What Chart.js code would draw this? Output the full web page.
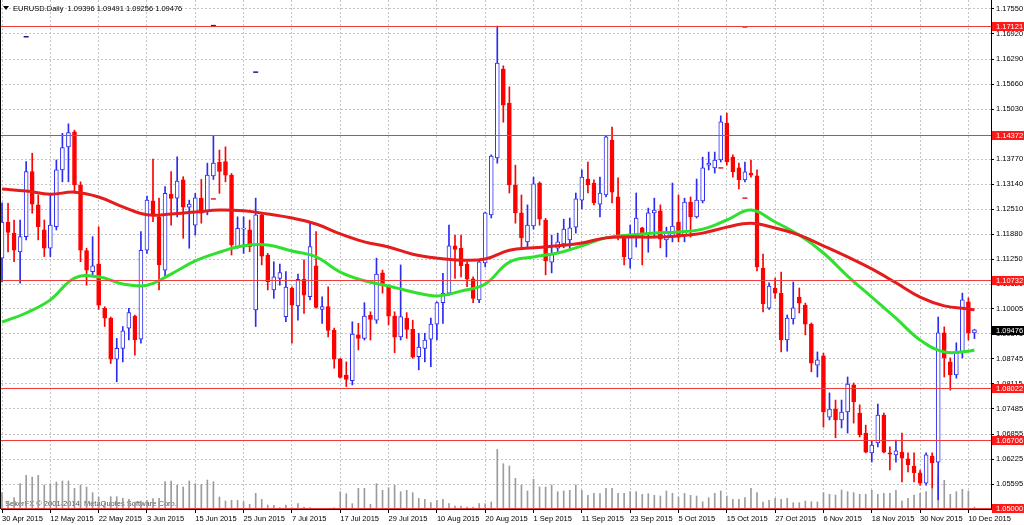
<!DOCTYPE html>
<html>
<head>
<meta charset="utf-8">
<script src="https://cdn.jsdelivr.net/npm/chart.js@4.4.0/dist/chart.umd.min.js"></script>
<style>
  html, body { margin: 0; padding: 0; background: #fff; }
  #wrap { width: 1024px; height: 525px; }
</style>
</head>
<body>
<div id="wrap"><canvas id="chart"></canvas></div>
<script>
// EURUSD daily, 30 Apr 2015 .. 11 Dec 2015 (one entry per bar)
const opens = [
  1.1128, 1.1218, 1.1191, 1.1144, 1.1182, 1.1346, 1.1262, 1.1199, 1.1153, 1.1207,
  1.1350, 1.1408, 1.1446, 1.1312, 1.1147, 1.1094, 1.1113, 1.1002, 1.0977, 1.0874,
  1.0901, 1.0952, 1.0982, 1.0924, 1.1148, 1.1272, 1.1232, 1.1098, 1.1289, 1.1279,
  1.1325, 1.1256, 1.1211, 1.1279, 1.1245, 1.1335, 1.1369, 1.1371, 1.1337, 1.1157,
  1.1201, 1.1199, 1.0998, 1.1237, 1.1136, 1.1048, 1.1077, 1.0981, 1.1052, 1.1008,
  1.1075, 1.1031, 1.1109, 1.0999, 1.1006, 1.0947, 1.0874, 1.0834, 1.0820, 1.0935,
  1.0926, 1.0984, 1.0972, 1.1091, 1.1058, 1.0982, 1.0930, 1.0977, 1.0949, 1.0880,
  1.0901, 1.0924, 1.0962, 1.1016, 1.1040, 1.1159, 1.1153, 1.1113, 1.1076, 1.1023,
  1.1116, 1.1237, 1.1380, 1.1604, 1.1518, 1.1312, 1.1242, 1.1169, 1.1209, 1.1317,
  1.1224, 1.1118, 1.1153, 1.1164, 1.1174, 1.1206, 1.1274, 1.1327, 1.1317, 1.1264,
  1.1287, 1.1425, 1.1282, 1.1184, 1.1126, 1.1181, 1.1204, 1.1191, 1.1242, 1.1247,
  1.1174, 1.1184, 1.1219, 1.1184, 1.1269, 1.1232, 1.1272, 1.1362, 1.1355, 1.1375,
  1.1468, 1.1382, 1.1355, 1.1325, 1.1342, 1.1335, 1.1103, 1.1002, 1.1053, 1.1040,
  1.0922, 1.0975, 1.1030, 1.1010, 1.0962, 1.0859, 1.0882, 1.0728, 1.0748, 1.0721,
  1.0741, 1.0809, 1.0738, 1.0688, 1.0638, 1.0663, 1.0733, 1.0638, 1.0633, 1.0640,
  1.0623, 1.0605, 1.0588, 1.0562, 1.0630, 1.0615, 1.0940, 1.0867, 1.0834, 1.0892,
  1.1018, 1.09396
];
const highs = [
  1.1267, 1.1266, 1.1224, 1.1224, 1.1371, 1.1392, 1.1287, 1.1224, 1.1287, 1.1375,
  1.1442, 1.1466, 1.1450, 1.1320, 1.1153, 1.1182, 1.1207, 1.1006, 1.0980, 1.0926,
  1.0956, 1.1002, 1.0985, 1.1195, 1.1284, 1.1377, 1.1279, 1.1308, 1.1346, 1.1383,
  1.1333, 1.1274, 1.1291, 1.1326, 1.1367, 1.1435, 1.1400, 1.1408, 1.1341, 1.1232,
  1.1232, 1.1224, 1.1279, 1.1240, 1.1140, 1.1119, 1.1113, 1.1094, 1.1056, 1.1088,
  1.1124, 1.1216, 1.1195, 1.1031, 1.1056, 1.0952, 1.0876, 1.0867, 1.0968, 1.0964,
  1.1016, 1.0993, 1.1128, 1.1098, 1.1060, 1.0993, 1.1111, 1.0991, 1.0972, 1.0939,
  1.0939, 1.0977, 1.1018, 1.1090, 1.1211, 1.1186, 1.1186, 1.1119, 1.1081, 1.1124,
  1.1244, 1.1388, 1.1712, 1.1612, 1.1559, 1.1362, 1.1287, 1.1262, 1.1332, 1.1320,
  1.1228, 1.1186, 1.1191, 1.1226, 1.1229, 1.1292, 1.1350, 1.1370, 1.1325, 1.1332,
  1.1437, 1.1458, 1.1330, 1.1188, 1.1211, 1.1292, 1.1206, 1.1254, 1.1279, 1.1262,
  1.1206, 1.1317, 1.1287, 1.1279, 1.1282, 1.1327, 1.1382, 1.1395, 1.1395, 1.1486,
  1.1493, 1.1388, 1.1367, 1.1370, 1.1375, 1.1350, 1.1138, 1.1066, 1.1078, 1.1093,
  1.0985, 1.1068, 1.1053, 1.1015, 1.0965, 1.0892, 1.0889, 1.0789, 1.0771, 1.0771,
  1.0829, 1.0814, 1.0759, 1.0708, 1.0670, 1.0761, 1.0738, 1.0653, 1.0670, 1.0688,
  1.0638, 1.0638, 1.0595, 1.0638, 1.0638, 1.0980, 1.0955, 1.0877, 1.0915, 1.1040,
  1.1028, 1.09491
];
const lows = [
  1.1068, 1.1144, 1.1119, 1.1065, 1.1174, 1.1241, 1.1174, 1.1132, 1.1132, 1.1199,
  1.1320, 1.1320, 1.1295, 1.1119, 1.1060, 1.1081, 1.0999, 1.0956, 1.0863, 1.0817,
  1.0867, 1.0922, 1.0884, 1.0914, 1.1140, 1.1220, 1.1048, 1.1081, 1.1211, 1.1232,
  1.1178, 1.1153, 1.1186, 1.1216, 1.1237, 1.1326, 1.1291, 1.1320, 1.1136, 1.1153,
  1.1140, 1.1144, 1.0956, 1.1111, 1.1048, 1.1027, 1.1060, 1.0968, 1.0914, 1.0972,
  1.0989, 1.1023, 1.1002, 1.0964, 1.0930, 1.0851, 1.0826, 1.0805, 1.0809, 1.0897,
  1.0922, 1.0922, 1.0964, 1.1040, 1.0960, 1.0890, 1.0922, 1.0926, 1.0876, 1.0847,
  1.0867, 1.0855, 1.0922, 1.0964, 1.1035, 1.1077, 1.1081, 1.1056, 1.1016, 1.1016,
  1.1106, 1.1229, 1.1367, 1.1470, 1.1292, 1.1216, 1.1154, 1.1156, 1.1201, 1.1211,
  1.1086, 1.1091, 1.1141, 1.1154, 1.1148, 1.1191, 1.1252, 1.1292, 1.1262, 1.1232,
  1.1282, 1.1267, 1.1174, 1.1111, 1.1103, 1.1156, 1.1111, 1.1143, 1.1179, 1.1154,
  1.1131, 1.1169, 1.1169, 1.1169, 1.1181, 1.1229, 1.1267, 1.1350, 1.1342, 1.1370,
  1.1362, 1.1332, 1.1302, 1.1320, 1.1332, 1.1096, 1.0993, 1.0999, 1.1027, 1.0892,
  1.0894, 1.0962, 1.0990, 1.0935, 1.0842, 1.0829, 1.0703, 1.0721, 1.0676, 1.0701,
  1.0688, 1.0713, 1.0678, 1.0638, 1.0615, 1.0653, 1.0638, 1.0595, 1.0615, 1.0565,
  1.0590, 1.0565, 1.0557, 1.0557, 1.0550, 1.0520, 1.0829, 1.0796, 1.0826, 1.0877,
  1.0922, 1.09256
];
const closes = [
  1.1219, 1.1193, 1.1148, 1.1182, 1.1346, 1.1264, 1.1207, 1.1153, 1.1211, 1.1350,
  1.1406, 1.1444, 1.1312, 1.1148, 1.1098, 1.1109, 1.1010, 1.0977, 1.0874, 1.0901,
  1.0945, 1.0991, 1.0922, 1.1148, 1.1274, 1.1238, 1.1111, 1.1291, 1.1278, 1.1322,
  1.1256, 1.1264, 1.1280, 1.1241, 1.1337, 1.1367, 1.1346, 1.1337, 1.1161, 1.1203,
  1.1203, 1.1157, 1.1237, 1.1133, 1.1069, 1.1081, 1.1092, 1.1055, 1.1010, 1.1075,
  1.1035, 1.1157, 1.1004, 1.1006, 1.0946, 1.0874, 1.0828, 1.0823, 1.0937, 1.0926,
  1.0982, 1.0974, 1.1088, 1.1058, 1.0982, 1.0929, 1.0981, 1.0949, 1.0879, 1.0904,
  1.0922, 1.0962, 1.1016, 1.1040, 1.1159, 1.1150, 1.1109, 1.1075, 1.1027, 1.1119,
  1.1242, 1.1385, 1.1619, 1.1513, 1.1312, 1.1242, 1.1179, 1.1211, 1.1315, 1.1226,
  1.1121, 1.1141, 1.1169, 1.1201, 1.1204, 1.1277, 1.1332, 1.1312, 1.1267, 1.1292,
  1.1433, 1.1294, 1.1181, 1.1131, 1.1181, 1.1229, 1.1191, 1.1242, 1.1249, 1.1176,
  1.1191, 1.1209, 1.1181, 1.1269, 1.1232, 1.1274, 1.1355, 1.1367, 1.1375, 1.1471,
  1.1370, 1.1345, 1.1325, 1.1345, 1.1337, 1.1106, 1.1013, 1.1058, 1.1040, 1.0922,
  1.0977, 1.1003, 1.1015, 1.0962, 1.0864, 1.0872, 1.0741, 1.0748, 1.0721, 1.0741,
  1.0811, 1.0766, 1.0683, 1.0640, 1.0658, 1.0733, 1.0640, 1.0635, 1.0643, 1.0625,
  1.0608, 1.0588, 1.0562, 1.0633, 1.0613, 1.0940, 1.0877, 1.0834, 1.0889, 1.1023,
  1.0940, 1.09476
];
// tick volume, thousands
const volumes = [
  16.3, 8, 11.3, 25.3, 33.7, 32, 33.7, 24, 25.3, 27,
  28, 28, 20.7, 24, 22, 16.3, 12, 6.3, 12.3, 12.3,
  10.7, 9.7, 7, 8, 8.7, 10.3, 10.7, 27.3, 28, 24,
  22, 28, 25.3, 24.7, 29, 27.3, 12, 8, 8.7, 8.7,
  7.3, 4.7, 15.7, 9.7, 4, 3.7, 1.3, 4, 1.3, 5.3,
  2, 1.3, 0.5, 0.7, 0.5, 1.3, 17.3, 15.3, 5.3, 20.7,
  20.7, 4.7, 25.3, 18.7, 21.3, 23.7, 17.3, 18.7, 16.3, 10.7,
  9.7, 6.3, 8.7, 9.7, 5.3, 3, 3, 2, 2, 5.3,
  5.3, 7, 59.7, 45.3, 43, 30.7, 24, 18, 29.7, 22,
  22, 24, 17.3, 18, 18.7, 24, 18.7, 13.7, 15.7, 15.3,
  20.7, 20.7, 15.7, 15.7, 17.3, 17.3, 14.7, 15.3, 13.7, 13,
  18, 15.7, 12, 15.7, 13.7, 13, 7.3, 11.3, 15.7, 18,
  13, 9.7, 9.7, 11.3, 20.7, 16.3, 7, 8.7, 10.7, 9.7,
  10.7, 6.3, 6.3, 8, 7.3, 7, 16.3, 14.7, 14, 19,
  17.3, 16.3, 14.7, 14.7, 18.7, 14.7, 15.7, 15.7, 18.7, 8,
  10.7, 14, 15.7, 17.3, 20.7, 32.3, 28.7, 14.7, 17.3, 19.7,
  18, 2
];

// moving averages every 4 bars
const maBars = [0, 4, 8, 12, 16, 20, 24, 28, 32, 36, 40, 44, 48, 52, 56, 60, 64, 68, 72, 76,
  80, 84, 88, 92, 96, 100, 104, 108, 112, 116, 120, 124, 128, 132, 136, 140, 144, 148, 152, 156, 160, 161];
const maSlow = [1.1302, 1.1297, 1.1289, 1.1294, 1.1282, 1.1257, 1.1237, 1.1239, 1.1244, 1.1249,
  1.1247, 1.1239, 1.1229, 1.1214, 1.1189, 1.1169, 1.1156, 1.1138, 1.1128, 1.1123,
  1.1126, 1.1148, 1.1154, 1.1159, 1.1166, 1.1179, 1.1181, 1.1181, 1.1184, 1.1191,
  1.1206, 1.1216, 1.1204, 1.1186, 1.1159, 1.1131, 1.1101, 1.1066, 1.1030, 1.1008, 1.1000, 1.0998];
const maFast = [1.0967, 1.0990, 1.1023, 1.1078, 1.1081, 1.1063, 1.1060, 1.1088, 1.1121, 1.1143,
  1.1159, 1.1161, 1.1146, 1.1131, 1.1093, 1.1071, 1.1058, 1.1043, 1.1033, 1.1045,
  1.1063, 1.1118, 1.1131, 1.1141, 1.1159, 1.1179, 1.1186, 1.1191, 1.1194, 1.1201,
  1.1224, 1.1249, 1.1219, 1.1186, 1.1141, 1.1083, 1.1030, 1.0977, 1.0922, 1.0892, 1.0894, 1.0897];

const dateLabels = ['30 Apr 2015', '12 May 2015', '22 May 2015', '3 Jun 2015', '15 Jun 2015',
  '25 Jun 2015', '7 Jul 2015', '17 Jul 2015', '29 Jul 2015', '10 Aug 2015', '20 Aug 2015',
  '1 Sep 2015', '11 Sep 2015', '23 Sep 2015', '5 Oct 2015', '15 Oct 2015', '27 Oct 2015',
  '6 Nov 2015', '18 Nov 2015', '30 Nov 2015', '10 Dec 2015'];
const barsPerLabel = 8;
// 1.14400 sits under the 1.14372 tag and is left out
const priceTicks = [1.17550, 1.16920, 1.16290, 1.15660, 1.15030, 1.13770, 1.13140,
  1.12510, 1.11880, 1.11250, 1.10620, 1.10005, 1.09375, 1.08745, 1.08115, 1.07485, 1.06855,
  1.06225, 1.05595];
const levels = [1.17121, 1.14372, 1.10732, 1.08022, 1.06706, 1.05000];
const lastPrice = 1.09476;

// small chart objects
const blueMarkBars = [4, 35, 42, 123];
const blueMarkPrices = [1.1685, 1.1713, 1.1596, 1.1710];
const redMarkBars = [35, 119, 123];
const redMarkPrices = [1.1277, 1.1355, 1.1279];

const headerText = 'EURUSD.Daily  1.09396 1.09491 1.09256 1.09476';
const copyright = 'SekerFX \u00a9 2001-2014, MetaQuotes Software Corp.';

const BULL = '#2b2bf2';
const BEAR = '#ff0000';
const FONT = "7.5px 'Liberation Sans', Arial, sans-serif";
const isBull = i => closes[i] >= opens[i];

const overlay = {
  id: 'overlay',
  beforeDatasetsDraw(chart) {
    const ctx = chart.ctx;
    ctx.save();
    ctx.font = FONT;
    ctx.fillStyle = '#4a4a4a';
    ctx.textBaseline = 'middle';
    ctx.fillText(copyright, 5, 504);
    ctx.restore();
  },
  afterDatasetsDraw(chart) {
    const {ctx, chartArea: a, scales: {y}} = chart;
    ctx.save();
    ctx.strokeStyle = '#ee3c3c';
    ctx.lineWidth = 1;
    levels.forEach(v => {
      const py = Math.round(y.getPixelForValue(v)) + 0.5;
      ctx.beginPath();
      ctx.moveTo(a.left, py);
      ctx.lineTo(a.right, py);
      ctx.stroke();
    });
    ctx.restore();
  },
  afterDraw(chart) {
    const {ctx, chartArea: a, scales: {y}} = chart;
    ctx.save();
    ctx.font = FONT;
    ctx.textBaseline = 'middle';
    const tag = (v, bg) => {
      const py = Math.round(y.getPixelForValue(v));
      ctx.fillStyle = bg;
      ctx.fillRect(a.right + 1, py - 4, chart.width - a.right - 1, 9);
      ctx.fillStyle = '#fff';
      ctx.fillText(v.toFixed(5), a.right + 5, py + 0.5);
    };
    levels.forEach(v => tag(v, '#ff1a1a'));
    tag(lastPrice, '#000');

    // left frame
    ctx.strokeStyle = '#000';
    ctx.lineWidth = 1;
    ctx.beginPath();
    ctx.moveTo(0.5, a.top);
    ctx.lineTo(0.5, a.bottom);
    ctx.stroke();

    // header
    ctx.fillStyle = '#000';
    ctx.beginPath();
    ctx.moveTo(3, 6);
    ctx.lineTo(9, 6);
    ctx.lineTo(6, 10);
    ctx.closePath();
    ctx.fill();
    ctx.fillText(headerText, 13, 8.5);
    ctx.restore();
  }
};

new Chart(document.getElementById('chart'), {
  type: 'bar',
  data: {
    datasets: [
      {
        label: 'Volume',
        yAxisID: 'yv',
        data: volumes.map((v, i) => ({x: i, y: v})),
        backgroundColor: '#9c9c9c',
        barThickness: 1,
        grouped: false,
        order: 10
      },
      {
        label: 'Wicks',
        data: lows.map((l, i) => ({x: i, y: [l, highs[i]]})),
        backgroundColor: c => isBull(c.dataIndex) ? BULL : BEAR,
        barThickness: 1,
        minBarLength: 1,
        grouped: false,
        order: 6
      },
      {
        label: 'Bodies',
        data: opens.map((o, i) => ({x: i, y: [o, closes[i]]})),
        backgroundColor: c => isBull(c.dataIndex) ? '#ffffff' : BEAR,
        borderColor: c => isBull(c.dataIndex) ? BULL : BEAR,
        borderWidth: 1,
        borderSkipped: false,
        barThickness: 4,
        minBarLength: 1,
        grouped: false,
        order: 5
      },
      {
        type: 'line',
        label: 'MA fast',
        data: maBars.map((b, k) => ({x: b, y: maFast[k]})),
        borderColor: '#2fe02f',
        borderWidth: 3,
        pointRadius: 0,
        tension: 0.4,
        order: 3
      },
      {
        type: 'line',
        label: 'MA slow',
        data: maBars.map((b, k) => ({x: b, y: maSlow[k]})),
        borderColor: '#e41c1c',
        borderWidth: 3,
        pointRadius: 0,
        tension: 0.4,
        order: 2
      },
      {
        type: 'scatter',
        label: 'Blue marks',
        data: blueMarkBars.map((b, k) => ({x: b, y: blueMarkPrices[k]})),
        pointStyle: 'line',
        pointRadius: 2.5,
        borderColor: '#1c1c8c',
        borderWidth: 1.5,
        order: 1
      },
      {
        type: 'scatter',
        label: 'Red marks',
        data: redMarkBars.map((b, k) => ({x: b, y: redMarkPrices[k]})),
        pointStyle: 'line',
        pointRadius: 2.5,
        borderColor: '#e02020',
        borderWidth: 1.5,
        order: 1
      }
    ]
  },
  options: {
    responsive: true,
    maintainAspectRatio: false,
    animation: false,
    events: [],
    layout: { padding: { left: 1, top: 0, right: 0, bottom: 0 }, autoPadding: false },
    plugins: { legend: { display: false }, tooltip: { enabled: false } },
    scales: {
      x: {
        type: 'linear',
        min: -0.166,
        max: 163.74,
        offset: false,
        afterBuildTicks: s => { s.ticks = dateLabels.map((_, k) => ({value: k * barsPerLabel})); },
        afterFit: s => { s.height = 16; s.paddingLeft = 0; s.paddingRight = 0; },
        ticks: {
          autoSkip: false, maxRotation: 0, align: 'start', padding: 1,
          color: '#000', font: { family: "'Liberation Sans', Arial, sans-serif", size: 7.5 },
          callback: (v, k) => dateLabels[k]
        },
        grid: { offset: false, color: '#c4c4c4', tickColor: '#000', tickLength: 4 },
        border: { color: '#000', width: 1, dash: [2, 2] }
      },
      y: {
        position: 'right',
        min: 1.04969,
        max: 1.17775,
        afterBuildTicks: s => { s.ticks = priceTicks.map(v => ({value: v})); },
        afterFit: s => { s.width = 33; s.paddingTop = 0; s.paddingBottom = 0; },
        ticks: {
          autoSkip: false, padding: 2, color: '#000',
          font: { family: "'Liberation Sans', Arial, sans-serif", size: 7.5 },
          callback: v => v.toFixed(5)
        },
        grid: { color: '#c4c4c4', tickColor: '#000', tickLength: 3 },
        border: { color: '#000', width: 1, dash: [2, 2] }
      },
      yv: { display: false, min: 0, max: 509 }
    }
  },
  plugins: [overlay]
});
</script>
</body>
</html>
